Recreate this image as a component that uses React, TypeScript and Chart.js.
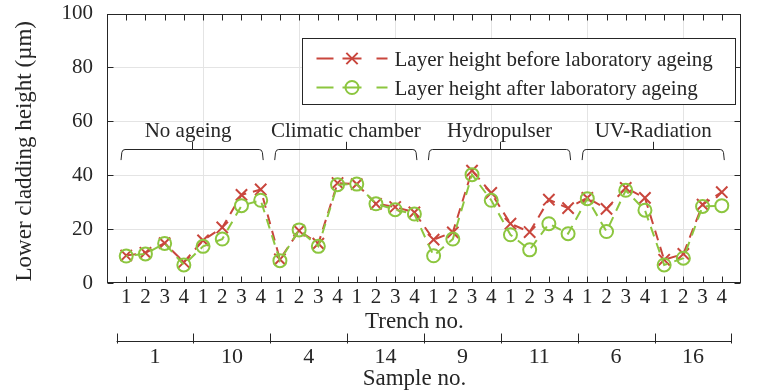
import React, { useEffect, useRef } from 'react';
import { Chart, registerables } from 'chart.js';

Chart.register(...registerables);

const trenchLabels = ['1', '2', '3', '4'];
const sampleLabels = ['1', '10', '4', '14', '9', '11', '6', '16'];
const groupLabels = ['No ageing', 'Climatic chamber', 'Hydropulser', 'UV-Radiation'];
const seriesNames = ['Layer height before laboratory ageing', 'Layer height after laboratory ageing'];
const yTicks = [0, 20, 40, 60, 80, 100];

const beforeValues = [
  10.2, 11.2, 14.8, 7.7, 15.8, 20.6, 32.7, 34.7,
  8.8, 19.4, 14.6, 37.1, 36.7, 29.4, 28.2, 26.2,
  16.1, 18.8, 41.7, 33.4, 22.0, 18.9, 30.9, 27.8,
  31.6, 27.5, 35.3, 31.6, 8.6, 10.8, 29.1, 33.7,
];
const afterValues = [
  10.0, 10.8, 14.7, 6.7, 13.6, 16.3, 28.7, 30.7,
  8.3, 19.7, 13.6, 36.5, 36.7, 29.4, 27.2, 25.6,
  10.1, 16.3, 40.2, 30.7, 17.9, 12.3, 22.0, 18.3,
  31.3, 19.1, 34.4, 27.0, 6.7, 9.2, 28.4, 28.7,
];

const RED = '#c9463d';
const GREEN = '#8cc63f';
const AXIS = '#262626';
const GRID = '#e4e4e4';
const FONT = '"Liberation Serif", "Times New Roman", serif';
const CLEAR = 'rgba(0,0,0,0)';

const xValues = beforeValues.map((_, i) => i + 1);

function drawCross(ctx: CanvasRenderingContext2D, x: number, y: number, r: number) {
  const o = r * Math.SQRT1_2;
  ctx.beginPath();
  ctx.moveTo(x - o, y - o);
  ctx.lineTo(x + o, y + o);
  ctx.moveTo(x - o, y + o);
  ctx.lineTo(x + o, y - o);
  ctx.stroke();
}

const decor = {
  id: 'decor',
  afterDraw(chart: any) {
    const { ctx, chartArea: a } = chart;
    const xs = chart.scales.x;
    const ys = chart.scales.y;
    ctx.save();
    ctx.strokeStyle = AXIS;
    ctx.fillStyle = AXIS;
    ctx.lineWidth = 1;
    ctx.setLineDash([]);

    const L = Math.round(a.left) + 0.5;
    const R = Math.round(a.right) - 0.5;
    const T = Math.round(a.top) + 0.5;
    const B = Math.round(a.bottom) - 0.5;

    // box
    ctx.strokeRect(L, T, R - L, B - T);

    // inward ticks
    const tl = 6;
    ctx.beginPath();
    xValues.forEach((v) => {
      const px = Math.round(xs.getPixelForValue(v)) + 0.5;
      ctx.moveTo(px, B);
      ctx.lineTo(px, B - tl);
      ctx.moveTo(px, T);
      ctx.lineTo(px, T + tl);
    });
    yTicks.forEach((v) => {
      const py = Math.round(ys.getPixelForValue(v)) + 0.5;
      ctx.moveTo(L, py);
      ctx.lineTo(L + tl, py);
      ctx.moveTo(R, py);
      ctx.lineTo(R - tl, py);
    });
    ctx.stroke();

    // braces with group labels
    ctx.font = `21px ${FONT}`;
    ctx.textAlign = 'center';
    ctx.textBaseline = 'alphabetic';
    groupLabels.forEach((label, g) => {
      const x0 = xs.getPixelForValue(g * 8 + 0.73);
      const x1 = xs.getPixelForValue(g * 8 + 8.13);
      const yl = Math.round(ys.getPixelForValue(49.6)) + 0.5;
      const ye = ys.getPixelForValue(45.6);
      const yt = ys.getPixelForValue(52.4);
      const xm = Math.round((x0 + x1) / 2) + 0.5;
      ctx.beginPath();
      ctx.moveTo(x0, ye);
      ctx.lineTo(x0 + 0.8, yl + 3);
      ctx.quadraticCurveTo(x0 + 1.3, yl, x0 + 4, yl);
      ctx.lineTo(x1 - 4, yl);
      ctx.quadraticCurveTo(x1 - 1.3, yl, x1 - 0.8, yl + 3);
      ctx.lineTo(x1, ye);
      ctx.moveTo(xm, yl);
      ctx.lineTo(xm, yt);
      ctx.stroke();
      const shift = g === 0 ? -4 : 0;
      ctx.fillText(label, (x0 + x1) / 2 + shift, ys.getPixelForValue(54.2));
    });

    // sample bracket row
    const by = Math.round(a.bottom + 58) + 0.5;
    const bx0 = xs.getPixelForValue(0.5);
    const bx1 = xs.getPixelForValue(xValues.length + 0.5);
    ctx.beginPath();
    ctx.moveTo(bx0, by);
    ctx.lineTo(bx1, by);
    for (let k = 0; k <= sampleLabels.length; k++) {
      const px = Math.round(xs.getPixelForValue(0.5 + k * 4)) + 0.5;
      ctx.moveTo(px, by - 8);
      ctx.lineTo(px, by + 2);
    }
    ctx.stroke();

    ctx.font = `22px ${FONT}`;
    sampleLabels.forEach((s, k) => {
      ctx.fillText(s, xs.getPixelForValue(k * 4 + 2.5), a.bottom + 80);
    });

    // axis labels
    ctx.font = `23px ${FONT}`;
    const cx = xs.getPixelForValue(16.0);
    ctx.fillText('Trench no.', cx, a.bottom + 45);
    ctx.fillText('Sample no.', cx, a.bottom + 102);

    ctx.save();
    ctx.translate(31, (a.top + a.bottom) / 2 + 3);
    ctx.rotate(-Math.PI / 2);
    ctx.fillText('Lower cladding height (\u00b5m)', 0, 0);
    ctx.restore();

    // legend
    const lx = Math.round(a.right - 439) + 0.5;
    const ly = Math.round(a.top + 24) + 0.5;
    const lw = 433;
    const lh = 66;
    ctx.fillStyle = '#ffffff';
    ctx.fillRect(lx, ly, lw, lh);
    ctx.strokeStyle = AXIS;
    ctx.strokeRect(lx, ly, lw, lh);
    const colors = [RED, GREEN];
    seriesNames.forEach((name, i) => {
      const cy = ly + 20 + i * 29;
      ctx.strokeStyle = colors[i];
      ctx.lineWidth = 2;
      ctx.beginPath();
      ctx.moveTo(lx + 14, cy);
      ctx.lineTo(lx + 31, cy);
      ctx.moveTo(lx + 74, cy);
      ctx.lineTo(lx + 85, cy);
      ctx.moveTo(lx + 40, cy);
      ctx.lineTo(lx + 59, cy);
      ctx.stroke();
      if (i === 0) {
        drawCross(ctx, lx + 49.5, cy, 8);
      } else {
        ctx.beginPath();
        ctx.arc(lx + 49.5, cy, 6.5, 0, Math.PI * 2);
        ctx.stroke();
      }
      ctx.fillStyle = AXIS;
      ctx.font = `21px ${FONT}`;
      ctx.textAlign = 'left';
      ctx.fillText(name, lx + 92, cy + 7.5);
    });

    ctx.restore();
  },
};

export default function App() {
  const ref = useRef<HTMLCanvasElement>(null);

  useEffect(() => {
    document.body.style.margin = '0';
    const canvas = ref.current;
    if (!canvas) return;
    const chart = new Chart(canvas, {
      type: 'line',
      data: {
        datasets: [
          {
            label: seriesNames[0],
            data: xValues.map((x, i) => ({ x, y: beforeValues[i] })),
            borderColor: RED,
            borderWidth: 2,
            borderDash: [10, 7],
            pointStyle: 'crossRot',
            pointRadius: 8,
            pointBorderWidth: 2,
            pointBorderColor: RED,
            pointBackgroundColor: RED,
            fill: false,
            tension: 0,
            order: 1,
          },
          {
            label: seriesNames[1],
            data: xValues.map((x, i) => ({ x, y: afterValues[i] })),
            borderColor: GREEN,
            borderWidth: 2,
            borderDash: [10, 7],
            borderDashOffset: 8.5,
            pointStyle: 'circle',
            pointRadius: 6.5,
            pointBorderWidth: 2,
            pointBorderColor: GREEN,
            pointBackgroundColor: CLEAR,
            fill: false,
            tension: 0,
            order: 0,
          },
        ],
      },
      options: {
        responsive: false,
        animation: false,
        devicePixelRatio: 1,
        layout: { padding: { left: 0, right: 27, top: 13.5, bottom: 0 } },
        plugins: {
          legend: { display: false },
          tooltip: { enabled: false },
          title: { display: false },
        },
        scales: {
          x: {
            type: 'linear',
            min: 0,
            max: 33,
            afterBuildTicks: (s: any) => {
              s.ticks = xValues.map((v) => ({ value: v }));
            },
            afterFit: (s: any) => {
              s.height = 107;
              s.paddingLeft = 0;
              s.paddingRight = 0;
            },
            ticks: {
              autoSkip: false,
              maxRotation: 0,
              minRotation: 0,
              padding: 2,
              color: AXIS,
              font: { family: FONT, size: 21 },
              callback: (v: any) => trenchLabels[(Number(v) - 1) % 4],
            },
            grid: {
              drawTicks: false,
              lineWidth: 1,
              color: (c: any) => (c.tick && c.tick.value % 5 === 0 ? GRID : CLEAR),
            },
            border: { display: false },
          },
          y: {
            min: 0,
            max: 100,
            afterBuildTicks: (s: any) => {
              s.ticks = yTicks.map((v) => ({ value: v }));
            },
            afterFit: (s: any) => {
              s.width = 107;
              s.paddingTop = 0;
              s.paddingBottom = 0;
            },
            ticks: {
              padding: 14,
              color: AXIS,
              font: { family: FONT, size: 21 },
            },
            grid: {
              drawTicks: false,
              lineWidth: 1,
              color: (c: any) => (c.tick && c.tick.value > 0 && c.tick.value < 100 ? GRID : CLEAR),
            },
            border: { display: false },
          },
        },
      },
      plugins: [decor],
    });
    return () => chart.destroy();
  }, []);

  return (
    <div style={{ width: 768, height: 390 }}>
      <canvas ref={ref} width={768} height={390} style={{ display: 'block' }} />
    </div>
  );
}
